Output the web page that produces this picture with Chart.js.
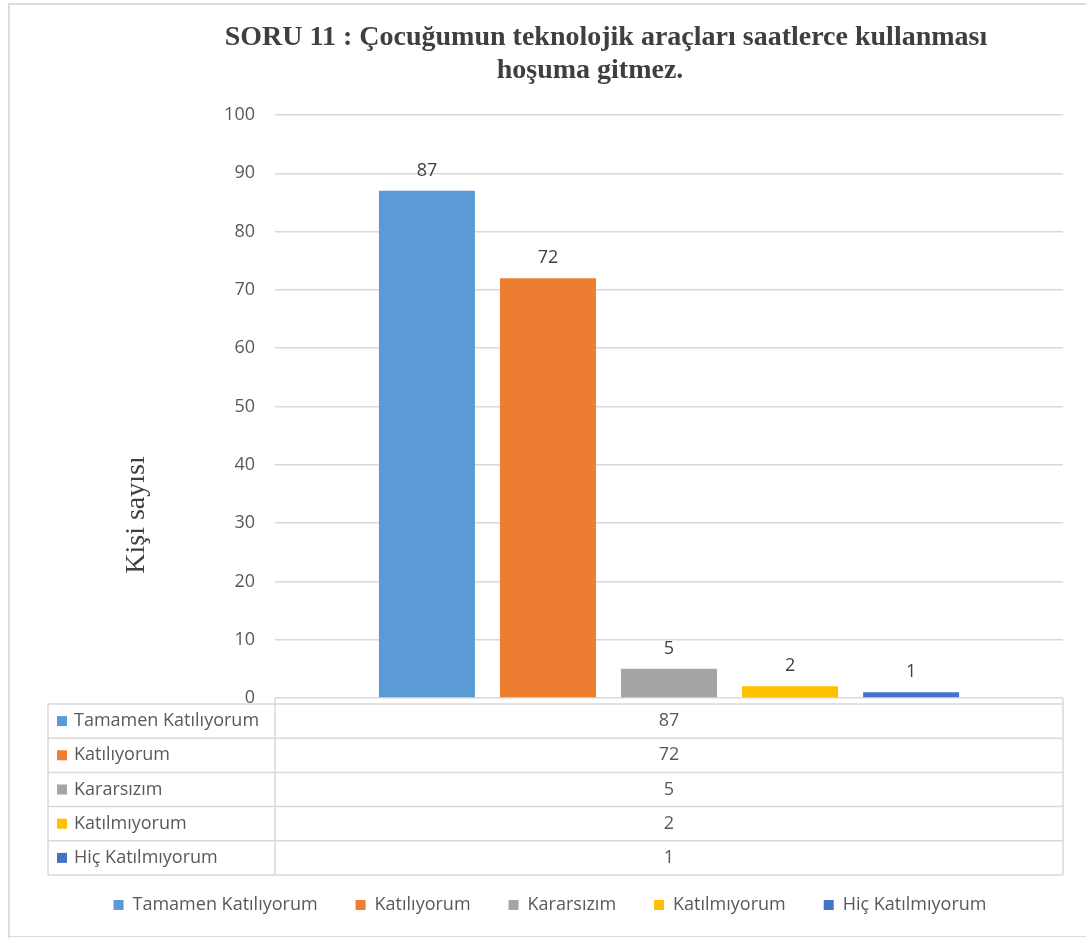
<!DOCTYPE html>
<html>
<head>
<meta charset="utf-8">
<script src="https://cdn.jsdelivr.net/npm/chart.js@4/dist/chart.umd.min.js"></script>
<style>
  html, body { margin: 0; padding: 0; background: #fff; }
  #wrap { width: 1086px; height: 938px; }
</style>
</head>
<body>
<div id="wrap"><canvas id="soruChart" width="1086" height="938"></canvas></div>
<script>
// chart data
const titleLines = ['SORU 11 : Çocuğumun teknolojik araçları saatlerce kullanması', 'hoşuma gitmez.'];
const yTitle = 'Kişi sayısı';
const categories = [''];
const seriesNames = ['Tamamen Katılıyorum', 'Katılıyorum', 'Kararsızım', 'Katılmıyorum', 'Hiç Katılmıyorum'];
const seriesValues = [87, 72, 5, 2, 1];
const seriesColors = ['#5b9bd5', '#ed7d31', '#a5a5a5', '#ffc000', '#4472c4'];
const yTicks = [0, 10, 20, 30, 40, 50, 60, 70, 80, 90, 100];

const sansFont = '"Open Sans", "Liberation Sans", sans-serif';
const serifFont = '"Liberation Serif", "DejaVu Serif", serif';
const textGray = '#595959';
const lineGray = '#d9d9d9';

const datasets = seriesNames.map((name, i) => ({
  label: name,
  data: [seriesValues[i]],
  backgroundColor: seriesColors[i],
  borderWidth: 0
}));

// frame, title, y title, value labels and the data table
const decorPlugin = {
  id: 'decor',
  beforeDraw(chart) {
    const c = chart.ctx;
    c.save();
    c.fillStyle = '#fff';
    c.fillRect(0, 0, chart.width, chart.height);
    c.strokeStyle = '#dcdcdc';
    c.lineWidth = 2;
    c.beginPath();
    c.moveTo(9, chart.height);
    c.lineTo(9, 4);
    c.lineTo(chart.width, 4);
    c.stroke();
    c.lineWidth = 1;
    c.beginPath();
    c.moveTo(9, 936.5);
    c.lineTo(chart.width, 936.5);
    c.stroke();
    c.restore();
  },
  afterDraw(chart) {
    const c = chart.ctx;
    const area = chart.chartArea;
    c.save();

    // title
    c.fillStyle = '#3f3f3f';
    c.font = 'bold 28px ' + serifFont;
    c.textAlign = 'center';
    c.textBaseline = 'middle';
    c.fillText(titleLines[0], 606, 38);
    c.fillText(titleLines[1], 590, 71);

    // y axis title
    c.save();
    c.translate(137, 515);
    c.rotate(-Math.PI / 2);
    c.font = '28px ' + serifFont;
    c.fillText(yTitle, 0, 0);
    c.restore();

    // value labels over bars
    c.font = '18px ' + sansFont;
    c.fillStyle = '#404040';
    chart.data.datasets.forEach((ds, i) => {
      const bar = chart.getDatasetMeta(i).data[0];
      c.fillText(String(ds.data[0]), bar.x, bar.y - 20);
    });

    // data table
    const left = 48, mid = area.left, right = area.right;
    const top = area.bottom + 6, rowH = 34.2;
    const bottom = top + rowH * seriesNames.length;
    c.strokeStyle = lineGray;
    c.lineWidth = 1.5;
    c.beginPath();
    c.moveTo(mid, area.bottom); c.lineTo(mid, bottom);
    c.moveTo(right, area.bottom); c.lineTo(right, bottom);
    c.moveTo(left, top); c.lineTo(left, bottom);
    for (let r = 0; r <= seriesNames.length; r++) {
      const y = top + r * rowH;
      c.moveTo(left, y); c.lineTo(right, y);
    }
    c.stroke();

    c.font = '18px ' + sansFont;
    seriesNames.forEach((name, r) => {
      const cy = top + rowH * (r + 0.5);
      c.fillStyle = seriesColors[r];
      c.fillRect(57, cy - 5, 10, 10);
      c.fillStyle = textGray;
      c.textAlign = 'left';
      c.fillText(name, 74, cy);
      c.textAlign = 'center';
      c.fillText(String(seriesValues[r]), (mid + right) / 2, cy);
    });
    c.restore();
  }
};

const ctx = document.getElementById('soruChart').getContext('2d');
const soruChart = new Chart(ctx, {
  type: 'bar',
  data: {
    labels: categories,
    datasets: datasets
  },
  options: {
    responsive: false,
    animation: false,
    categoryPercentage: 0.768,
    barPercentage: 0.793,
    layout: {
      padding: { left: 37, right: 23, top: 115, bottom: 14 }
    },
    plugins: {
      title: { display: false },
      tooltip: { enabled: false },
      legend: {
        position: 'bottom',
        labels: {
          boxWidth: 10,
          boxHeight: 10,
          padding: 38,
          color: textGray,
          font: { family: sansFont, size: 18 }
        }
      }
    },
    scales: {
      x: {
        ticks: { display: false },
        grid: { display: false },
        border: { display: false },
        afterFit(scale) { scale.height = 160; }
      },
      y: {
        min: 0,
        max: 100,
        afterBuildTicks(scale) { scale.ticks = yTicks.map(v => ({ value: v })); },
        ticks: {
          padding: 20,
          color: textGray,
          font: { family: sansFont, size: 18 }
        },
        grid: { color: lineGray, lineWidth: 1.5, drawTicks: false },
        border: { display: false },
        afterFit(scale) { scale.width = 238; }
      }
    }
  },
  plugins: [decorPlugin]
});
</script>
</body>
</html>
